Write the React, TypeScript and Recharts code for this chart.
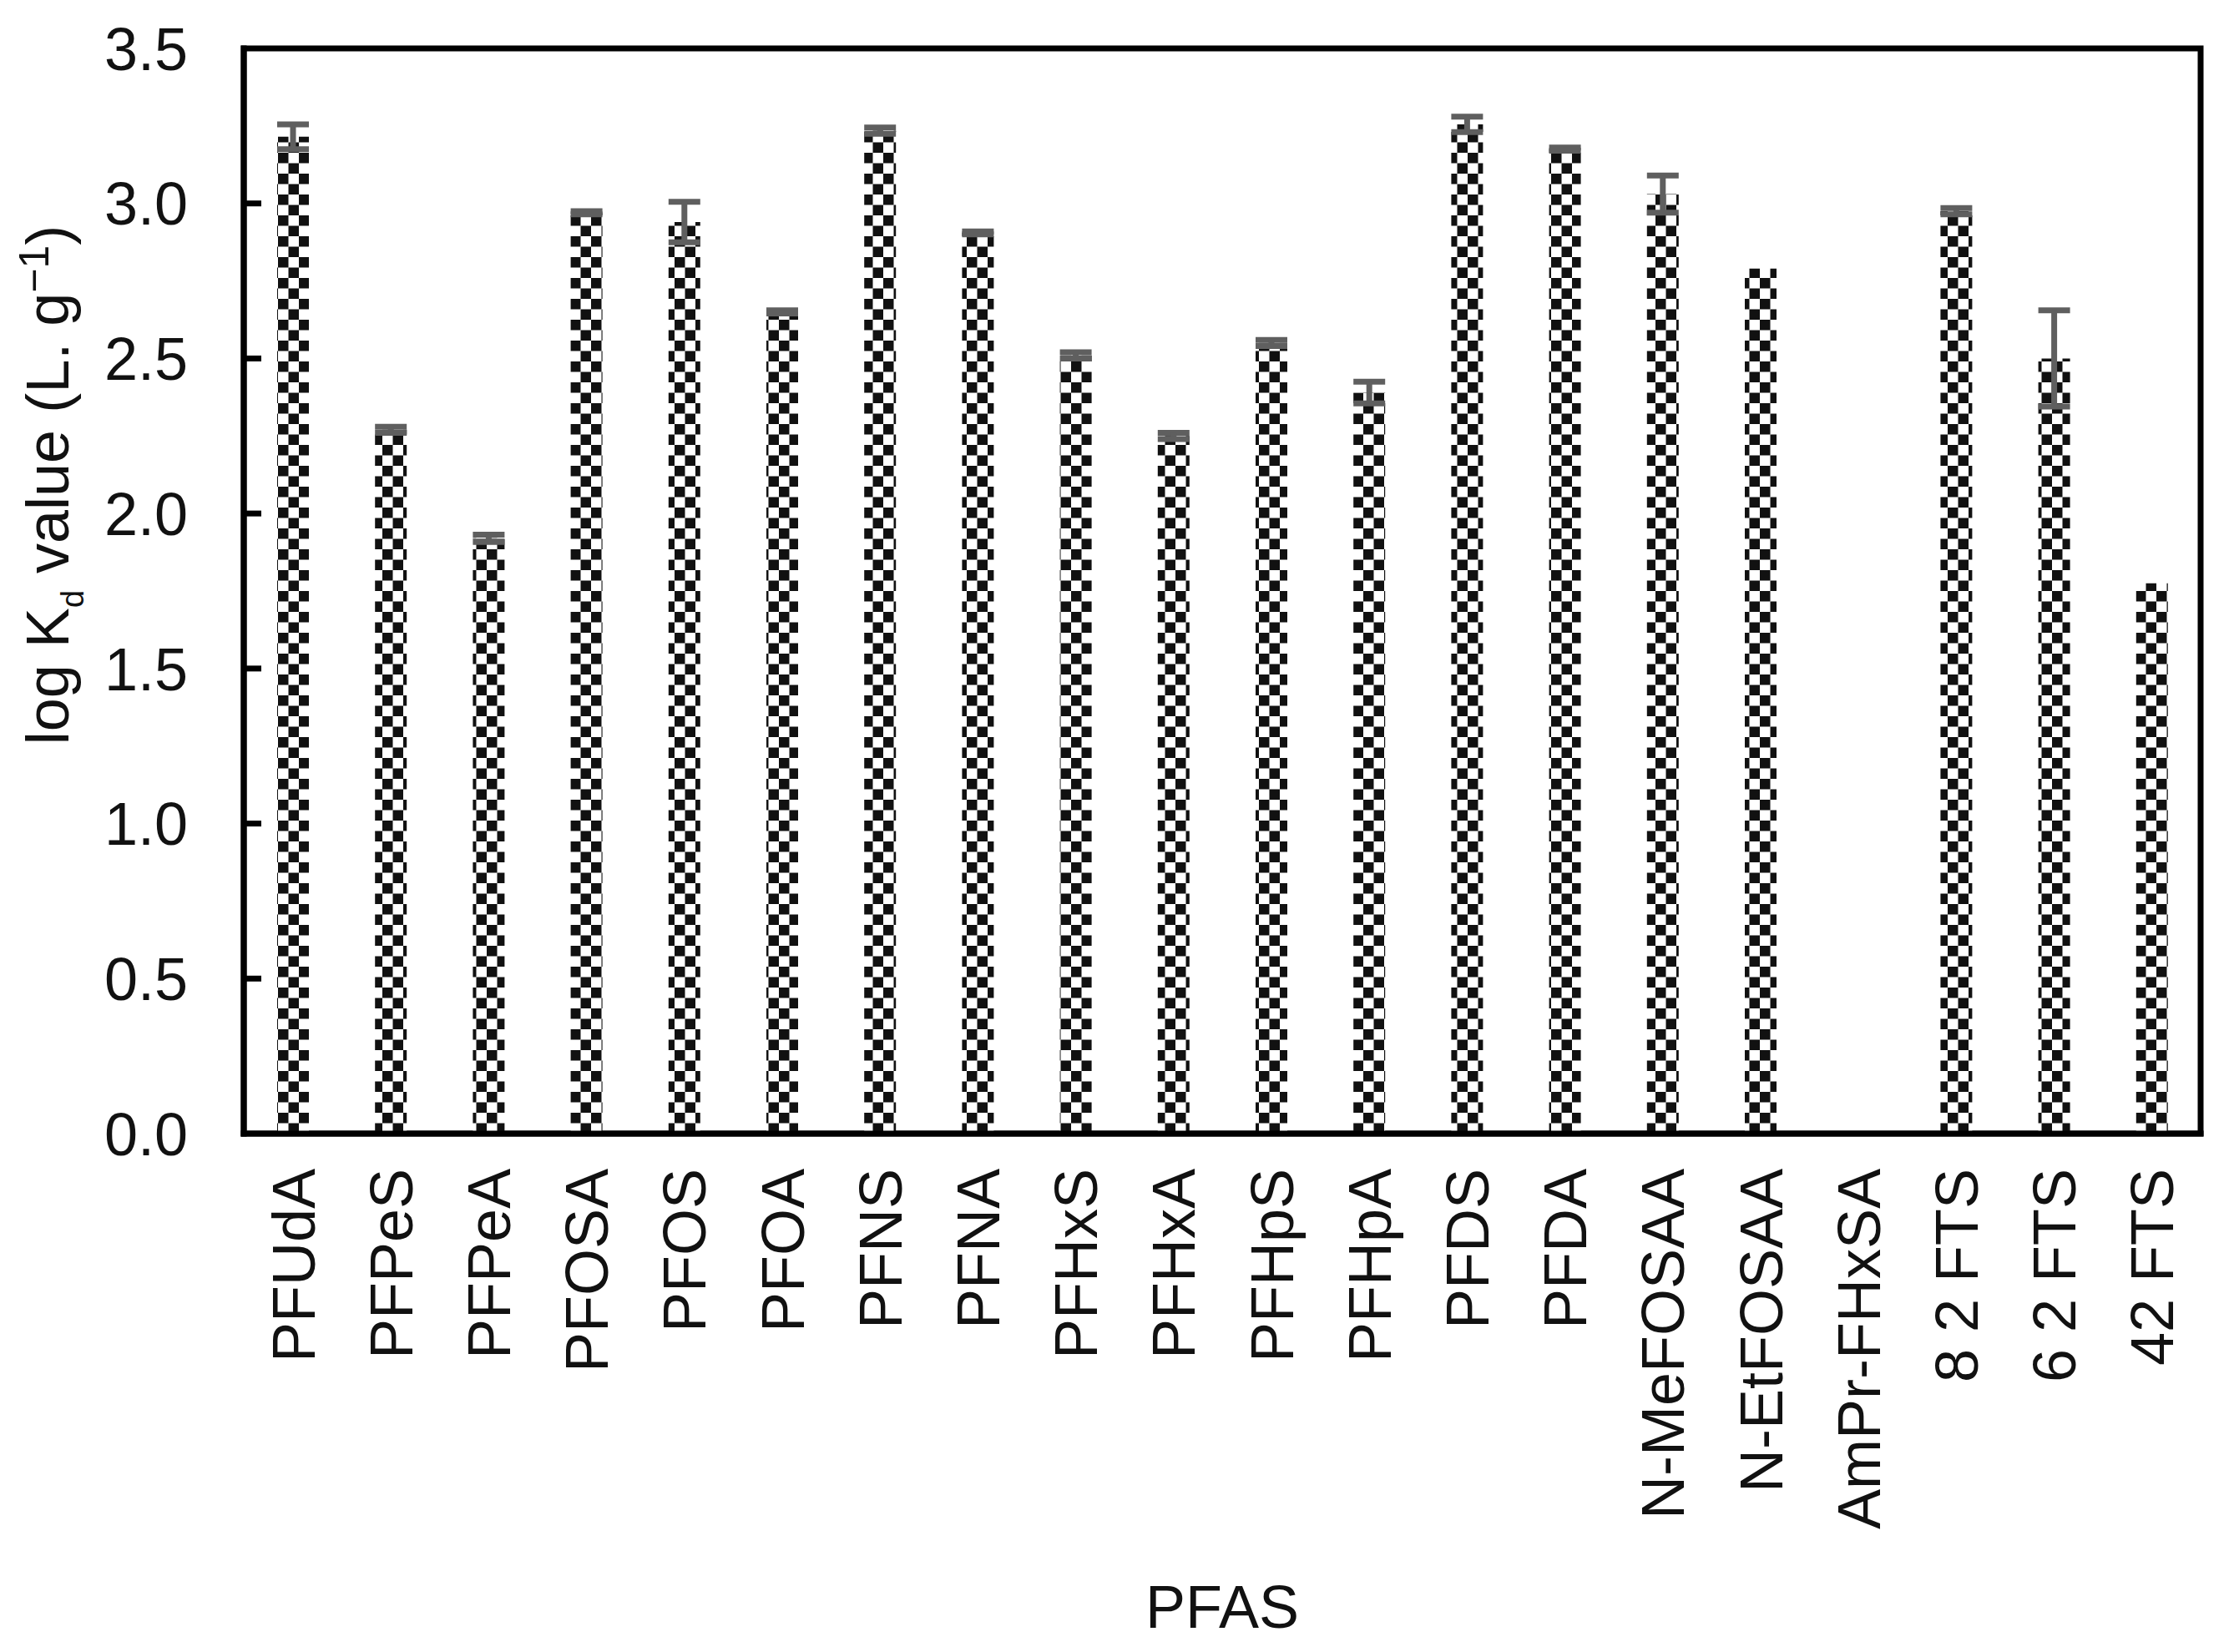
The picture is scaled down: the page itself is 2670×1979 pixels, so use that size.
import React from 'react';
import { BarChart, Bar, XAxis, YAxis, ErrorBar, ReferenceArea } from 'recharts';

const compounds = [
  'PFUdA', 'PFPeS', 'PFPeA', 'PFOSA', 'PFOS', 'PFOA', 'PFNS', 'PFNA', 'PFHxS', 'PFHxA',
  'PFHpS', 'PFHpA', 'PFDS', 'PFDA', 'N-MeFOSAA', 'N-EtFOSAA', 'AmPr-FHxSA', '8 2 FTS', '6 2 FTS', '42 FTS',
];
const logKd = [
  3.215, 2.27, 1.92, 2.97, 2.94, 2.65, 3.235, 2.905, 2.51, 2.25,
  2.55, 2.39, 3.255, 3.175, 3.03, 2.79, null, 2.975, 2.5, 1.775,
];
const sd = [
  0.04, 0.01, 0.012, 0.005, 0.065, 0.005, 0.01, 0.005, 0.01, 0.01,
  0.01, 0.035, 0.025, 0.005, 0.06, null, null, 0.01, 0.155, null,
];
const yTicks = [0, 0.5, 1, 1.5, 2, 2.5, 3, 3.5];

const rows = compounds.map((name, i) => ({ name, kd: logKd[i], err: sd[i] }));

const FONT = '"Liberation Sans", Arial, Helvetica, sans-serif';
const INK = '#111';
const frameLine = { stroke: '#000', strokeWidth: 7, strokeLinecap: 'square' as const };

const XTick = ({ x, y, payload }: any) => {
  const ty = y + 42;
  return (
    <text
      x={x}
      y={ty}
      dy="0.36em"
      transform={`rotate(-90, ${x}, ${ty})`}
      textAnchor="end"
      fontSize={72}
      fontFamily={FONT}
      fill={INK}
    >
      {payload.value}
    </text>
  );
};

const YTick = ({ x, y, payload }: any) => (
  <g>
    {payload.value > 0 && payload.value < 3.5 && (
      <line x1={x} x2={x + 21} y1={y} y2={y} stroke="#000" strokeWidth={7} />
    )}
    <text x={x - 67} y={y} dy="0.358em" textAnchor="end" fontSize={72} fontFamily={FONT} fill={INK}>
      {payload.value.toFixed(1)}
    </text>
  </g>
);

const YLabel = ({ viewBox }: any) => {
  const cx = viewBox.x + 74;
  const cy = viewBox.y + viewBox.height / 2 - 127;
  return (
    <text
      x={cx}
      y={cy}
      transform={`rotate(-90, ${cx}, ${cy})`}
      textAnchor="middle"
      fontSize={72}
      fontFamily={FONT}
      fill={INK}
    >
      {'log K'}
      <tspan fontSize={38} dy={18}>d</tspan>
      <tspan dy={-18}>{' value (L. g'}</tspan>
      <tspan fontSize={50} dy={-24}>{'\u22121'}</tspan>
      <tspan dy={24}>)</tspan>
    </text>
  );
};

export default function App() {
  return (
    <div style={{ width: 2654, height: 1963, fontFamily: FONT }}>
      <svg width={0} height={0} style={{ position: 'absolute' }}>
        <defs>
          <pattern id="checker" patternUnits="userSpaceOnUse" width={25} height={25}>
            <rect x={0} y={0} width={25} height={25} fill="#fff" />
            <rect x={0} y={0} width={12.5} height={12.5} fill={INK} />
            <rect x={12.5} y={12.5} width={12.5} height={12.5} fill={INK} />
          </pattern>
        </defs>
      </svg>
      <BarChart
        width={2654}
        height={1963}
        data={rows}
        margin={{ top: 50, right: 26, bottom: 0, left: 0 }}
        barSize={38}
      >
        <XAxis
          dataKey="name"
          interval={0}
          height={613}
          tickSize={0}
          tickMargin={0}
          tickLine={false}
          axisLine={frameLine}
          tick={<XTick />}
          label={{ value: 'PFAS', position: 'insideBottom', offset: 21, fontSize: 72, fontFamily: FONT, fill: INK }}
        />
        <YAxis
          width={284}
          domain={[0, 3.5]}
          ticks={yTicks}
          allowDataOverflow
          tickSize={0}
          tickMargin={0}
          tickLine={false}
          axisLine={frameLine}
          tick={<YTick />}
          label={<YLabel />}
        />
        <Bar dataKey="kd" fill="url(#checker)" isAnimationActive={false}>
          <ErrorBar dataKey="err" direction="y" width={19} strokeWidth={7} stroke="#5f5f5f" isAnimationActive={false} />
        </Bar>
        <ReferenceArea y1={0} y2={3.5} fill="none" fillOpacity={0} stroke="#000" strokeWidth={7} />
      </BarChart>
    </div>
  );
}
